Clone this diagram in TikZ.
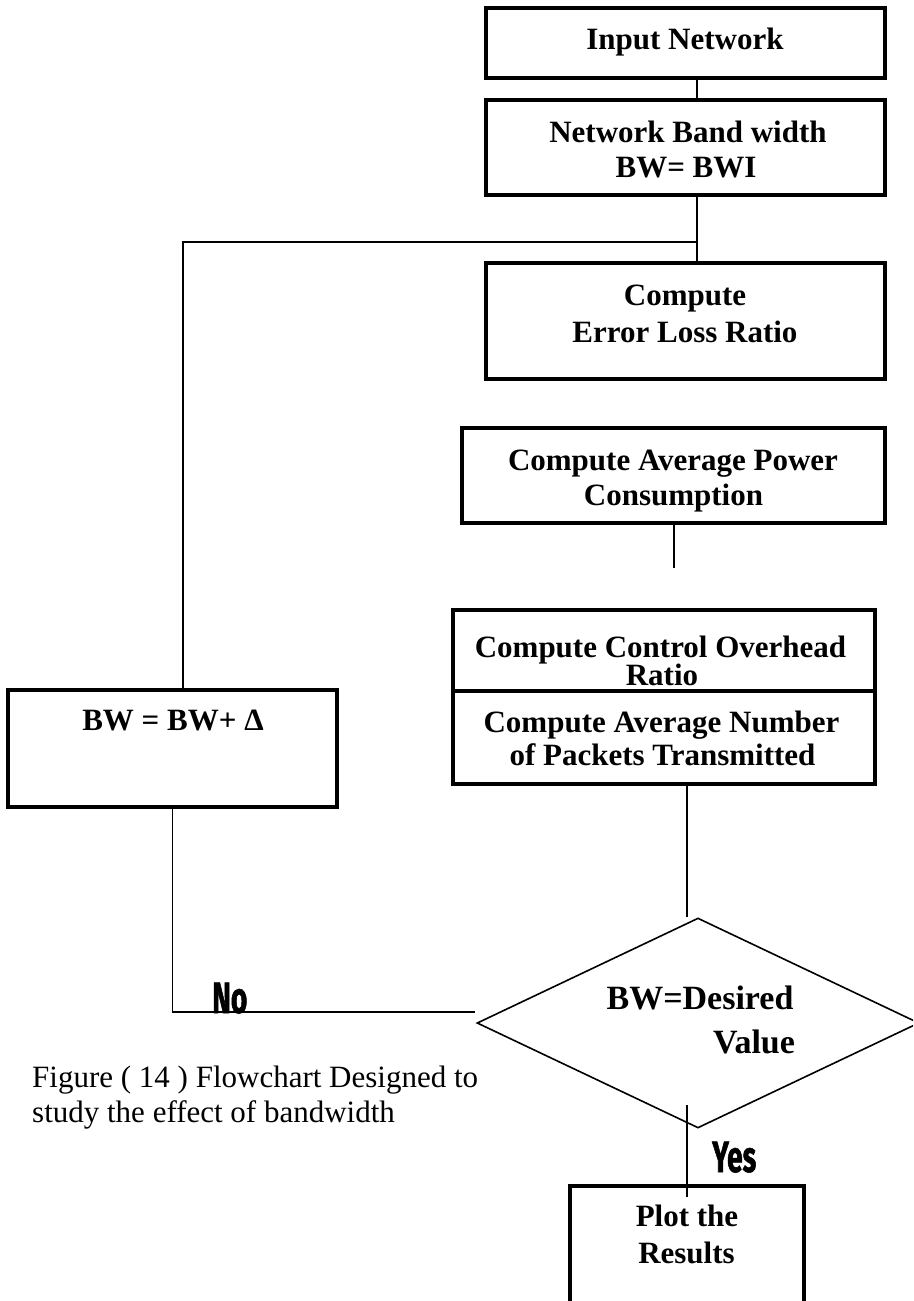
\documentclass[tikz,border=0pt]{standalone}
\usepackage{fontspec}
\setmainfont{Liberation Serif}
\newfontfamily\ynfont[FakeStretch=0.64,BoldFeatures={FakeBold=1.2}]{Fira Sans}
\usetikzlibrary{shapes.geometric}

\tikzset{
  flowbox/.style={draw, line width=3.5pt, rectangle, inner sep=0pt},
  conn/.style={line width=1.6pt},
  txt/.style={inner sep=0pt, anchor=base, font=\bfseries\fontsize{31}{35}\selectfont},
  dtxt/.style={inner sep=0pt, anchor=base, font=\bfseries\fontsize{34}{40}\selectfont},
  captxt/.style={inner sep=0pt, anchor=base west, font=\fontsize{31}{35}\selectfont},
  yn/.style={inner sep=0pt, anchor=base west, font=\ynfont\bfseries\fontsize{44}{44}\selectfont},
  decision/.style={draw, diamond, line width=1.6pt, inner sep=0pt, aspect=2.1}
}

\begin{document}
\begin{tikzpicture}[x=1pt,y=-1pt]
\useasboundingbox (0,0) rectangle (913,1301);
\clip (0,0) rectangle (913,1301);

% boxes
\node[flowbox, minimum width=399, minimum height=70]  (inp) at (685.5,43)    {};
\node[flowbox, minimum width=399, minimum height=95]  (bwi) at (685.5,147.5) {};
\node[flowbox, minimum width=399, minimum height=116] (err) at (685.5,321)   {};
\node[flowbox, minimum width=423, minimum height=95]  (pow) at (673.5,475.5) {};
\node[flowbox, minimum width=422, minimum height=81]  (ovh) at (664,650.5)   {};
\node[flowbox, minimum width=422, minimum height=93]  (pkt) at (664,737.5)   {};
\node[flowbox, minimum width=329, minimum height=117] (inc) at (172.5,748.5) {};
\node[flowbox, minimum width=234, minimum height=160] (plot) at (687,1266)   {};
\node[decision, minimum width=442, minimum height=210] (dec) at (698,1023)   {};

% box texts
\node[txt] (tinp)  at (685,49)  {Input Network};
\node[txt] (tbw1)  at (688,142) {Network Band width};
\node[txt] (tbw2)  at (686,177) {BW= BWI};
\node[txt] (terr1) at (685,305) {Compute};
\node[txt] (terr2) at (685,342) {Error Loss Ratio};
\node[txt] (tpow1) at (673,470) {Compute Average Power};
\node[txt] (tpow2) at (673.5,505) {Consumption};
\node[txt] (tovh1) at (660.5,657) {Compute Control Overhead};
\node[txt] (tovh2) at (662,685) {Ratio};
\node[txt] (tpkt1) at (661.5,732) {Compute Average Number};
\node[txt] (tpkt2) at (662.5,765) {of Packets Transmitted};
\node[txt] (tinc)  at (173,730) {BW = BW+ Δ};
\node[txt] (tplt1) at (687,1226) {Plot the};
\node[txt] (tplt2) at (686.5,1263) {Results};
\node[dtxt] (tdec1) at (700,1009) {BW=Desired};
\node[dtxt] (tdec2) at (754,1053) {Value};

% branch labels
\node[yn] (lno)  at (212,1013) {No};
\node[yn] (lyes) at (712,1172) {Yes};

% caption
\node[captxt] (cap1) at (32,1087) {Figure ( 14 ) Flowchart Designed to};
\node[captxt] (cap2) at (32,1122) {study the effect of bandwidth};

% connector anchors
\coordinate (spine) at (697,0);
\coordinate (junc)  at (697,242);
\coordinate (loopx) at (183,0);
\coordinate (pend)  at (674,568);
\coordinate (dtop)  at (687,917);
\coordinate (dbot)  at (687,1105);
\coordinate (pin)   at (687,1197);
\coordinate (nend)  at (475,1012);

% connectors
\draw[conn] (inp.south -| spine) -- (bwi.north -| spine);
\draw[conn] (bwi.south -| spine) -- (err.north -| spine);
\draw[conn] (junc) -| (inc.north -| loopx);
\draw[conn] (pow.south -| pend) -- (pend);
\draw[conn] (pkt.south -| dtop) -- (dtop);
\draw[conn] (dbot) -- (pin);
\draw[conn] (inc.south) -- (inc.south |- nend) -- (nend);
\end{tikzpicture}
\end{document}
